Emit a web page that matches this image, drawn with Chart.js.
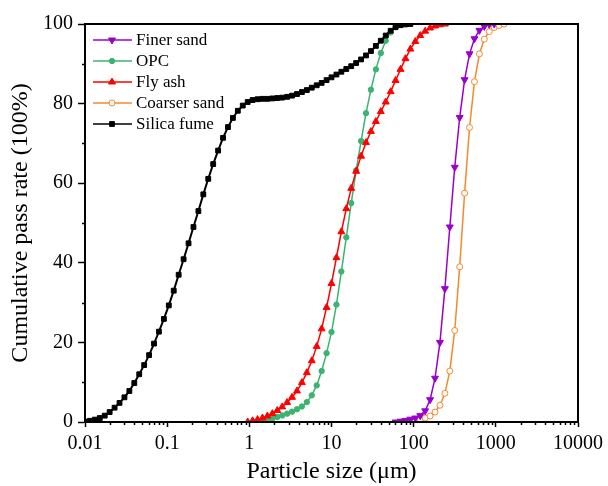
<!DOCTYPE html>
<html>
<head>
<meta charset="utf-8">
<script src="https://cdn.jsdelivr.net/npm/chart.js@4.4.1/dist/chart.umd.min.js"></script>
<style>
  html, body { margin: 0; padding: 0; background: #fff; }
  #wrap { width: 608px; height: 486px; }
</style>
</head>
<body>
<div id="wrap"><canvas id="myChart" width="608" height="486"></canvas></div>
<script>
// size classes of the analyser (um)
var sizeClasses = [
  0.01, 0.01148, 0.01318, 0.01514, 0.01738, 0.01995, 0.02291, 0.0263, 0.0302, 0.03467,
  0.03981, 0.04571, 0.05248, 0.06026, 0.06918, 0.07943, 0.0912, 0.1047, 0.1202, 0.138,
  0.1585, 0.182, 0.2089, 0.2399, 0.2754, 0.3162, 0.3631, 0.4169, 0.4786, 0.5495,
  0.631, 0.7244, 0.8318, 0.955, 1.096, 1.259, 1.445, 1.66, 1.905, 2.188,
  2.512, 2.884, 3.311, 3.802, 4.365, 5.012, 5.754, 6.607, 7.586, 8.71,
  10, 11.48, 13.18, 15.14, 17.38, 19.95, 22.91, 26.3, 30.2, 34.67,
  39.81, 45.71, 52.48, 60.26, 69.18, 79.43, 91.2, 104.7, 120.2, 138,
  158.5, 182, 208.9, 239.9, 275.4, 316.2, 363.1, 416.9, 478.6, 549.5,
  631, 724.4, 831.8, 955, 1096, 1259
];

// cumulative pass rate (%) per material, starting at a size class index
var finerStart = 63;
var finerPass = [0.0, 0.2, 0.4, 0.7, 1.0, 1.6, 2.8, 5.6, 11.0, 20.0,
  33.5, 49.0, 64.0, 76.5, 86.0, 92.5, 96.3, 98.4, 99.4, 99.9, 100];

var opcStart = 34;
var opcPass = [0.0, 0.1, 0.3, 0.55, 0.9, 1.25, 1.65, 2.1, 2.6, 3.2,
  3.9, 5.0, 6.7, 9.2, 12.8, 17.3, 22.6, 29.5, 37.8, 46.4,
  55.0, 63.2, 70.6, 77.6, 83.5, 88.6, 92.7, 95.8, 97.9, 99.2, 99.8, 100];

var flyStart = 33;
var flyPass = [0.0, 0.3, 0.6, 1.0, 1.5, 2.1, 2.9, 3.8, 4.9, 6.2,
  7.8, 9.9, 12.4, 15.4, 19.0, 23.4, 28.8, 34.8, 41.3, 47.8,
  53.6, 58.7, 63.0, 66.8, 70.2, 73.0, 75.5, 78.0, 80.4, 83.0,
  85.8, 88.6, 91.3, 93.7, 95.6, 97.1, 98.2, 99.0, 99.5, 99.8, 100];

var coarserStart = 64;
var coarserPass = [0.0, 0.1, 0.2, 0.4, 0.6, 1.0, 1.5, 2.5, 4.2, 7.2,
  12.8, 23.0, 39.0, 57.5, 74.0, 85.5, 92.5, 96.2, 98.1, 99.1, 99.6, 100];

var silicaStart = 0;
var silicaPass = [0.1, 0.3, 0.6, 1.0, 1.6, 2.5, 3.6, 4.8, 6.2, 7.8,
  9.8, 12.0, 14.3, 16.8, 19.7, 22.7, 25.9, 29.3, 33.0, 37.0,
  40.9, 44.9, 49.0, 53.0, 57.2, 61.1, 64.8, 68.2, 71.4, 74.1,
  76.4, 78.2, 79.5, 80.4, 80.9, 81.1, 81.2, 81.2, 81.3, 81.4,
  81.5, 81.7, 82.0, 82.4, 82.9, 83.4, 84.0, 84.6, 85.2, 85.9,
  86.6, 87.3, 88.0, 88.7, 89.4, 90.2, 91.1, 92.1, 93.2, 94.5,
  95.8, 97.1, 98.3, 99.2, 99.7, 99.9, 100];

var xTicks = [0.01, 0.1, 1, 10, 100, 1000, 10000];
var yTicks = [0, 20, 40, 60, 80, 100];
var yMinor = [10, 30, 50, 70, 90];

function points(start, pass) {
  return pass.map(function(v, i) { return { x: sizeClasses[start + i], y: v }; });
}

var serif = "'Liberation Serif', 'Times New Roman', serif";

// ticks on the outside, short minor ones, frame, and the legend
var decor = {
  id: 'decor',
  afterDraw: function(chart) {
    var c = chart.ctx, a = chart.chartArea;
    var xs = chart.scales.x, ys = chart.scales.y;
    c.save();
    c.strokeStyle = '#000';
    c.lineWidth = 1.5;
    c.beginPath();
    for (var i = 0; i < xTicks.length - 1; i++) {
      for (var m = 2; m <= 9; m++) {
        var px = Math.round(xs.getPixelForValue(xTicks[i] * m)) + 0.5;
        c.moveTo(px, a.bottom);
        c.lineTo(px, a.bottom + 3);
      }
    }
    yMinor.forEach(function(v) {
      var py = Math.round(ys.getPixelForValue(v)) + 0.5;
      c.moveTo(a.left, py);
      c.lineTo(a.left - 3, py);
    });
    c.stroke();

    c.lineWidth = 2;
    c.strokeRect(a.left, a.top, a.right - a.left, a.bottom - a.top);

    // legend
    var lx = 93, ly = 40, step = 21;
    c.font = '17px ' + serif;
    c.textBaseline = 'middle';
    c.textAlign = 'left';
    chart.data.datasets.forEach(function(ds, i) {
      var y = ly + i * step;
      c.strokeStyle = ds.borderColor;
      c.lineWidth = 1.5;
      c.beginPath();
      c.moveTo(lx, y);
      c.lineTo(lx + 39, y);
      c.stroke();
      if (Chart.helpers && Chart.helpers.drawPoint) {
        c.fillStyle = ds.pointBackgroundColor;
        c.strokeStyle = ds.borderColor;
        c.lineWidth = ds.pointBorderWidth;
        Chart.helpers.drawPoint(c, {
          pointStyle: ds.pointStyle,
          rotation: ds.pointRotation || 0,
          radius: ds.pointRadius,
          borderWidth: ds.pointBorderWidth
        }, lx + 19, y);
      }
      c.fillStyle = '#000';
      c.fillText(ds.label, lx + 43, y + 1);
    });
    c.restore();
  }
};

function series(label, color, start, pass, style, radius, bg, rot, order) {
  return {
    label: label,
    data: points(start, pass),
    borderColor: color,
    backgroundColor: color,
    borderWidth: color === '#000000' ? 2 : 1.5,
    pointStyle: style,
    pointRadius: radius,
    pointRotation: rot || 0,
    pointBackgroundColor: bg,
    pointBorderColor: color,
    pointBorderWidth: 1,
    tension: 0,
    order: order
  };
}

var ctx = document.getElementById('myChart').getContext('2d');

var chart = new Chart(ctx, {
  type: 'line',
  data: {
    datasets: [
      series('Finer sand', '#9a00cc', finerStart, finerPass, 'triangle', 4, '#9a00cc', 180, 3),
      series('OPC', '#3cb371', opcStart, opcPass, 'circle', 2.7, '#3cb371', 0, 2),
      series('Fly ash', '#ff0000', flyStart, flyPass, 'triangle', 4, '#ff0000', 0, 1),
      series('Coarser sand', '#f5892f', coarserStart, coarserPass, 'circle', 3, '#ffffff', 0, 4),
      series('Silica fume', '#000000', silicaStart, silicaPass, 'rect', 3.4, '#000000', 0, 0)
    ]
  },
  options: {
    responsive: false,
    animation: false,
    layout: { padding: { top: 24, right: 29, left: 0, bottom: 0 } },
    plugins: { legend: { display: false }, tooltip: { enabled: false } },
    scales: {
      x: {
        type: 'logarithmic',
        min: 0.01,
        max: 10000,
        afterFit: function(s) { s.height = 64; },
        afterBuildTicks: function(s) { s.ticks = xTicks.map(function(v) { return { value: v }; }); },
        border: { display: true, color: '#000', width: 2 },
        grid: { drawOnChartArea: false, drawTicks: true, tickLength: 5, tickColor: '#000', tickWidth: 1.5 },
        ticks: {
          autoSkip: false, maxRotation: 0, padding: 5, color: '#000',
          font: { family: serif, size: 20 },
          callback: function(v) { return String(v); }
        },
        title: { display: true, text: 'Particle size (\u03bcm)', color: '#000', font: { family: serif, size: 24 }, padding: { top: 0, bottom: 0 } }
      },
      y: {
        min: 0,
        max: 100,
        afterFit: function(s) { s.width = 85; },
        afterBuildTicks: function(s) { s.ticks = yTicks.map(function(v) { return { value: v }; }); },
        border: { display: true, color: '#000', width: 2 },
        grid: { drawOnChartArea: false, drawTicks: true, tickLength: 7, tickColor: '#000', tickWidth: 1.5 },
        ticks: { padding: 5, color: '#000', font: { family: serif, size: 20 } },
        title: { display: true, text: 'Cumulative pass rate (100%)', color: '#000', font: { family: serif, size: 24 }, padding: { top: 6, bottom: 0 } }
      }
    }
  },
  plugins: [decor]
});
</script>
</body>
</html>
